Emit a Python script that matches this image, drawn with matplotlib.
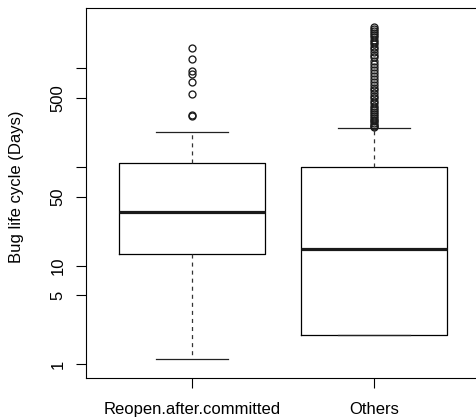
import matplotlib
matplotlib.use("Agg")
import matplotlib.pyplot as plt

plt.rcParams['font.family'] = ['Liberation Sans', 'DejaVu Sans']
plt.rcParams['lines.scale_dashes'] = False

categories = ["Reopen.after.committed", "Others"]
whisker_low = [1.13, 2.0]
q1 = [13.1, 2.0]
median = [35.3, 14.8]
q3 = [111, 99.6]
whisker_high = [227, 249]
outliers = [
    [1599, 1236, 950, 874, 733, 547, 335, 330],
    [2630, 2520, 2400, 2280, 2170, 2060, 1960, 1860, 1760, 1660, 1560, 1470,
     1380, 1290, 1200, 1120, 1040, 970, 900, 840, 780, 730, 680, 640, 600,
     565, 530, 500, 470, 445, 420, 400, 380, 362, 345, 330, 315, 302, 290,
     280, 270, 262, 255],
]
yticks = [1, 5, 10, 50, 100, 500, 1000]
yticklabels = ["1", "5", "10", "50", "", "500", ""]

fig = plt.figure(figsize=(4.76, 4.2), dpi=100)
W, H = 476, 420
left_px, right_px = 86.4, 479.6
top_px, bottom_px = 8, 378
ax = fig.add_axes([left_px / W, 1 - bottom_px / H,
                   (right_px - left_px) / W, (bottom_px - top_px) / H])

stats = []
for i in range(len(categories)):
    stats.append(dict(med=median[i], q1=q1[i], q3=q3[i],
                      whislo=whisker_low[i], whishi=whisker_high[i],
                      fliers=outliers[i], label=categories[i]))

ax.bxp(stats, positions=[1, 2], widths=0.8, showfliers=True,
       boxprops=dict(color='black', linewidth=0.9),
       medianprops=dict(color='#1a1a1a', linewidth=2.3, solid_capstyle='butt'),
       whiskerprops=dict(color='#333333', linewidth=0.9, linestyle=(0, (2.9, 2.9))),
       capprops=dict(color='#222222', linewidth=0.9),
       capwidths=0.4,
       flierprops=dict(marker='o', markerfacecolor='none', markeredgecolor='#1a1a1a',
                       markersize=5.0, markeredgewidth=0.95))

ax.set_yscale('log')
ax.set_ylim(10 ** -0.137, 10 ** 3.612)
ax.set_xlim(0.42, 2.58)
ax.set_yticks(yticks)
ax.set_yticklabels(yticklabels, rotation=90, va='center')
ax.minorticks_off()
ax.set_xticks([1, 2])
ax.set_xticklabels(categories)

ax.tick_params(axis='both', direction='out', length=7.2, width=0.8, labelsize=12, colors='black')
ax.tick_params(axis='y', pad=8)
ax.tick_params(axis='x', pad=10)
for s in ax.spines.values():
    s.set_linewidth(0.8)
    s.set_color('black')

fig.text(16.5 / W, 1 - 187 / H, "Bug life cycle (Days)", rotation=90,
         ha='center', va='center', fontsize=12)

fig.savefig("out.png", dpi=100)
